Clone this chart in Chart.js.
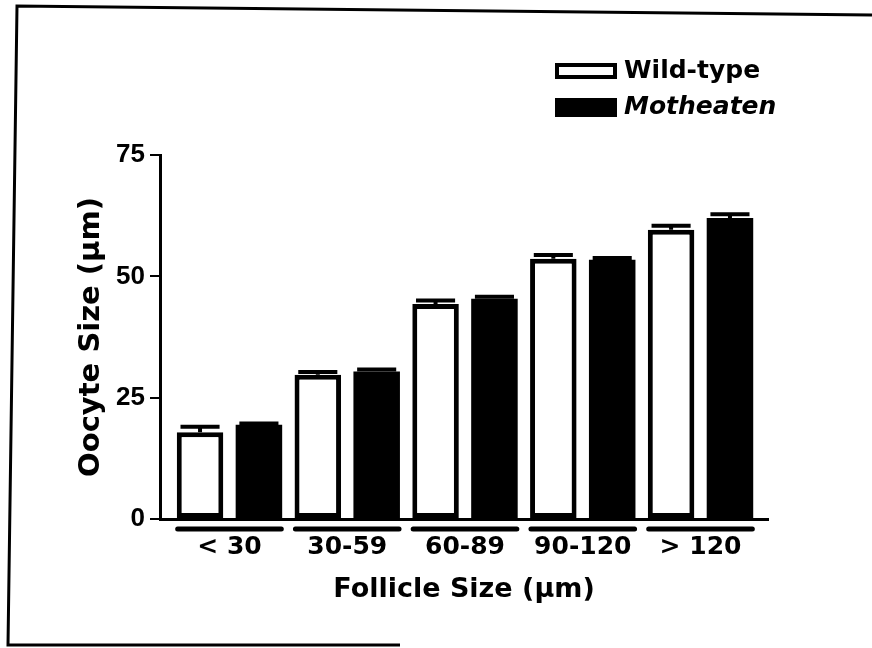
<!DOCTYPE html>
<html>
<head>
<meta charset="utf-8">
<script src="https://cdn.jsdelivr.net/npm/chart.js@4.4.1/dist/chart.umd.min.js"></script>
<style>
  html, body { margin: 0; padding: 0; background: #fff; }
  #chart { display: block; }
</style>
</head>
<body>
<canvas id="chart" width="872" height="648"></canvas>
<script>
// data
const categories = ['< 30', '30-59', '60-89', '90-120', '> 120'];
const wildType = [17.9, 29.7, 44.3, 53.6, 59.6];
const wildTypeErr = [1.1, 0.6, 0.7, 0.8, 0.8];
const motheaten = [19.4, 30.4, 45.4, 53.4, 62.0];
const motheatenErr = [0.3, 0.4, 0.4, 0.4, 0.8];
const yTicks = [0, 25, 50, 75];
const seriesNames = ['Wild-type', 'Motheaten'];

const INK = '#000';

// categories sit on a numeric x axis so the first group can start a bit in from the y axis
const toPoints = (vals) => vals.map((v, i) => ({ x: i, y: v }));

// small error caps on top of each bar
const errorBars = {
  id: 'errorBars',
  afterDatasetsDraw(chart) {
    const { ctx } = chart;
    const y = chart.scales.y;
    chart.data.datasets.forEach((ds, di) => {
      const meta = chart.getDatasetMeta(di);
      meta.data.forEach((bar, i) => {
        const v = ds.data[i].y;
        const e = ds.errors[i];
        const y0 = y.getPixelForValue(v);
        const y1 = y.getPixelForValue(v + e);
        const half = bar.width * 0.42;
        ctx.save();
        ctx.strokeStyle = INK;
        ctx.lineWidth = 4;
        ctx.beginPath();
        ctx.moveTo(bar.x, y0);
        ctx.lineTo(bar.x, y1);
        ctx.moveTo(bar.x - half, y1);
        ctx.lineTo(bar.x + half, y1);
        ctx.stroke();
        ctx.restore();
      });
    });
  }
};

// black bar under each group of bars
const groupLines = {
  id: 'groupLines',
  afterDraw(chart) {
    const { ctx, chartArea } = chart;
    const x = chart.scales.x;
    const cw = x.getPixelForValue(1) - x.getPixelForValue(0);
    ctx.save();
    ctx.strokeStyle = INK;
    ctx.lineWidth = 5;
    ctx.lineCap = 'round';
    categories.forEach((c, i) => {
      const cx = x.getPixelForValue(i);
      ctx.beginPath();
      ctx.moveTo(cx - cw * 0.44, chartArea.bottom + 10);
      ctx.lineTo(cx + cw * 0.44, chartArea.bottom + 10);
      ctx.stroke();
    });
    ctx.restore();
  }
};

// legend stacked at top right
const sideLegend = {
  id: 'sideLegend',
  afterDraw(chart) {
    const { ctx } = chart;
    const boxes = [[555, 63, 62, 16], [555, 98, 62, 19]];
    ctx.save();
    chart.data.datasets.forEach((ds, i) => {
      const [bx, by, bw, bh] = boxes[i];
      if (i === 0) {
        ctx.fillStyle = '#fff';
        ctx.fillRect(bx, by, bw, bh);
        ctx.strokeStyle = INK;
        ctx.lineWidth = 4;
        ctx.strokeRect(bx + 2, by + 2, bw - 4, bh - 4);
      } else {
        ctx.fillStyle = INK;
        ctx.fillRect(bx, by, bw, bh);
      }
      ctx.fillStyle = INK;
      ctx.font = (i === 1 ? 'italic ' : '') + 'bold 25px "DejaVu Sans"';
      ctx.textBaseline = 'middle';
      ctx.textAlign = 'left';
      ctx.fillText(ds.label, 624, by + bh / 2);
    });
    ctx.restore();
  }
};

// scanned frame around the figure
const frame = {
  id: 'frame',
  afterDraw(chart) {
    const { ctx } = chart;
    ctx.save();
    ctx.strokeStyle = INK;
    ctx.lineWidth = 3;
    ctx.beginPath();
    ctx.moveTo(872, 15);
    ctx.lineTo(17, 6);
    ctx.lineTo(8, 645);
    ctx.lineTo(400, 645);
    ctx.stroke();
    ctx.restore();
  }
};

const ctx = document.getElementById('chart').getContext('2d');

new Chart(ctx, {
  type: 'bar',
  data: {
    datasets: [
      {
        label: seriesNames[0],
        data: toPoints(wildType),
        errors: wildTypeErr,
        backgroundColor: '#fff',
        borderColor: INK,
        borderWidth: 5,
        borderSkipped: false,
      },
      {
        label: seriesNames[1],
        data: toPoints(motheaten),
        errors: motheatenErr,
        backgroundColor: INK,
        borderColor: INK,
        borderWidth: 0,
        borderSkipped: false,
      },
    ],
  },
  options: {
    responsive: false,
    animation: false,
    devicePixelRatio: 1,
    layout: { padding: { top: 155, right: 104, left: 0, bottom: 0 } },
    categoryPercentage: 1,
    barPercentage: 0.79,
    plugins: {
      legend: { display: false },
      tooltip: { enabled: false },
    },
    scales: {
      x: {
        type: 'linear',
        offset: false,
        min: -0.59,
        max: 4.573,
        afterFit: (s) => { s.height = 129; },
        afterBuildTicks: (s) => { s.ticks = categories.map((c, i) => ({ value: i })); },
        grid: { display: false, drawTicks: false, offset: false },
        border: { display: true, color: INK, width: 3 },
        ticks: {
          color: INK,
          padding: 13,
          autoSkip: false,
          maxRotation: 0,
          callback: (v) => categories[v],
          font: { family: 'DejaVu Sans', size: 25, weight: 'bold' },
        },
        title: {
          display: true,
          text: 'Follicle Size (μm)',
          color: INK,
          font: { family: 'DejaVu Sans', size: 27, weight: 'bold' },
          padding: { top: 0, bottom: 42 },
        },
      },
      y: {
        min: 0,
        max: 75,
        afterFit: (s) => { s.width = 160; },
        afterBuildTicks: (s) => { s.ticks = yTicks.map((v) => ({ value: v })); },
        grid: {
          drawOnChartArea: false,
          drawTicks: true,
          tickLength: 10,
          color: INK,
          lineWidth: 2,
        },
        border: { display: true, color: INK, width: 3 },
        ticks: {
          color: INK,
          padding: 5,
          font: { family: 'Liberation Sans', size: 26, weight: 'bold' },
        },
        title: {
          display: true,
          text: 'Oocyte Size (μm)',
          color: INK,
          font: { family: 'DejaVu Sans', size: 29, weight: 'bold' },
          padding: { top: 74, bottom: 0 },
        },
      },
    },
  },
  plugins: [errorBars, groupLines, sideLegend, frame],
});
</script>
</body>
</html>
